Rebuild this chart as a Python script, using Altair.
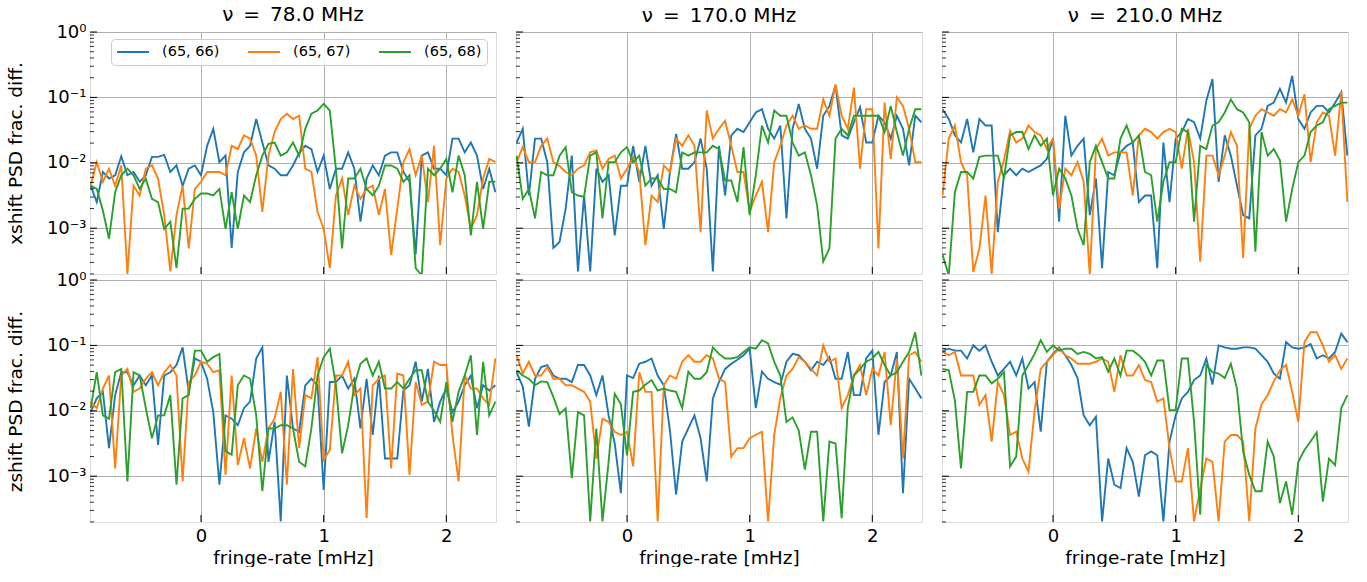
import altair as alt
import pandas as pd

FONT = "DejaVu Sans"

X = [-0.90, -0.85, -0.80, -0.75, -0.70, -0.65, -0.60, -0.55, -0.50, -0.45,
     -0.40, -0.35, -0.30, -0.25, -0.20, -0.15, -0.10, -0.05, 0.00, 0.05,
     0.10, 0.15, 0.20, 0.25, 0.30, 0.35, 0.40, 0.45, 0.50, 0.55,
     0.60, 0.65, 0.70, 0.75, 0.80, 0.85, 0.90, 0.95, 1.00, 1.05,
     1.10, 1.15, 1.20, 1.25, 1.30, 1.35, 1.40, 1.45, 1.50, 1.55,
     1.60, 1.65, 1.70, 1.75, 1.80, 1.85, 1.90, 1.95, 2.00, 2.05,
     2.10, 2.15, 2.20, 2.25, 2.30, 2.35, 2.40]

SERIES = ["(65, 66)", "(65, 67)", "(65, 68)"]
COLORS = ["#1f77b4", "#ff7f0e", "#2ca02c"]
FREQ_TITLES = ["ν\u2002=\u200278.0 MHz", "ν\u2002=\u2002170.0 MHz", "ν\u2002=\u2002210.0 MHz"]
ROW_TITLES = ["xshift PSD frac. diff.", "zshift PSD frac. diff."]
X_TICKS = [0, 1, 2]
Y_TICKS = [1, 0.1, 0.01, 0.001]

# values are log10 of the PSD fractional difference
X78_66 = [-2.35, -2.60, -2.14, -2.24, -2.19, -1.90, -2.19, -2.14, -2.29, -2.19,
          -1.91, -1.91, -1.88, -2.14, -2.04, -2.35, -2.09, -2.04, -2.19, -1.74,
          -1.48, -1.99, -1.89, -3.30, -2.14, -1.84, -1.74, -1.33, -1.69, -2.04,
          -2.09, -2.19, -2.19, -2.04, -1.85, -1.74, -1.79, -2.14, -1.89, -2.40,
          -2.09, -2.09, -1.84, -2.09, -2.90, -2.24, -2.04, -2.19, -1.89, -1.84,
          -1.84, -2.14, -2.29, -3.40, -1.89, -1.84, -2.09, -2.09, -2.19, -1.63,
          -1.63, -1.84, -1.69, -1.89, -2.40, -2.09, -2.45]
X78_67 = [-2.35, -1.99, -2.29, -2.09, -2.35, -2.04, -3.70, -2.35, -2.50, -2.09,
          -2.04, -2.24, -2.80, -3.66, -2.80, -2.35, -3.31, -2.40, -2.29, -2.14,
          -2.14, -2.14, -2.19, -1.74, -1.79, -1.58, -1.63, -1.89, -2.75, -1.89,
          -1.53, -1.33, -1.25, -1.33, -1.28, -2.09, -2.14, -2.75, -3.01, -3.61,
          -2.50, -2.24, -2.80, -2.35, -2.55, -2.40, -2.35, -2.80, -2.40, -3.41,
          -2.70, -1.99, -1.79, -2.19, -1.89, -2.60, -1.74, -3.26, -2.24, -2.09,
          -2.14, -2.50, -3.01, -2.80, -2.24, -1.94, -1.99]
X78_68 = [-2.35, -2.40, -2.73, -3.16, -2.45, -2.19, -2.09, -2.19, -2.40, -2.24,
          -2.55, -2.60, -3.01, -2.90, -3.61, -2.70, -2.70, -2.55, -2.47, -2.47,
          -2.50, -2.40, -3.01, -2.45, -3.01, -2.50, -2.60, -2.19, -1.89, -1.71,
          -1.69, -1.89, -1.84, -1.69, -1.89, -1.48, -1.25, -1.20, -1.10, -1.20,
          -2.10, -3.31, -2.24, -2.24, -2.09, -2.40, -2.50, -2.35, -2.04, -2.04,
          -2.09, -2.29, -2.19, -3.61, -3.72, -2.09, -2.19, -2.09, -1.94, -2.45,
          -1.89, -2.19, -3.11, -2.29, -3.01, -2.29, -2.29]

X170_66 = [-1.69, -1.48, -2.50, -1.63, -1.63, -1.99, -3.30, -3.21, -2.70, -1.89,
           -3.66, -2.50, -3.66, -2.09, -2.29, -2.19, -3.11, -2.35, -2.35, -1.74,
           -2.29, -1.74, -2.35, -2.19, -3.01, -2.14, -1.56, -2.09, -2.09, -1.99,
           -1.63, -2.09, -3.66, -1.74, -2.50, -1.58, -1.48, -1.53, -1.38, -1.23,
           -1.18, -1.48, -1.63, -1.43, -2.85, -1.48, -1.10, -1.48, -1.63, -2.09,
           -1.28, -1.13, -0.82, -1.58, -1.63, -1.38, -1.15, -1.69, -1.69, -1.28,
           -1.38, -1.63, -1.28, -1.48, -2.04, -1.28, -1.38]
X170_67 = [-1.99, -1.76, -1.99, -1.99, -1.74, -1.63, -1.99, -2.05, -2.14, -2.19,
           -2.09, -2.04, -1.84, -1.81, -2.09, -1.94, -1.89, -2.24, -2.09, -1.91,
           -2.14, -3.26, -2.50, -2.60, -2.04, -2.14, -1.63, -1.74, -1.58, -1.74,
           -3.06, -1.20, -1.63, -1.48, -1.36, -1.74, -2.14, -2.14, -2.75, -2.50,
           -2.29, -3.06, -1.99, -1.74, -1.43, -1.28, -1.48, -1.43, -1.48, -1.48,
           -1.03, -1.28, -0.80, -1.28, -1.48, -0.85, -2.09, -1.18, -1.18, -3.31,
           -1.08, -1.94, -1.00, -1.13, -1.48, -1.99, -1.99]
X170_68 = [-1.89, -2.55, -2.40, -2.85, -2.14, -2.19, -2.19, -1.89, -1.76, -2.45,
           -2.50, -2.52, -1.89, -1.84, -2.85, -1.99, -1.99, -1.84, -1.76, -1.99,
           -1.89, -2.35, -2.24, -2.24, -2.40, -2.40, -2.45, -1.84, -1.89, -1.84,
           -1.84, -1.84, -1.74, -1.79, -2.27, -2.27, -2.60, -1.76, -2.80, -2.19,
           -1.43, -1.69, -1.20, -1.28, -1.28, -1.69, -1.89, -1.84, -2.19, -2.65,
           -3.51, -3.31, -1.63, -1.48, -1.58, -1.28, -1.28, -1.28, -1.28, -1.28,
           -1.53, -1.13, -1.53, -1.89, -1.48, -1.18, -1.18]

X210_66 = [-1.18, -1.33, -1.58, -1.69, -1.33, -1.84, -1.33, -1.43, -1.43, -3.06,
           -2.19, -2.09, -2.19, -2.09, -2.14, -2.09, -2.04, -1.94, -1.63, -2.90,
           -1.28, -1.89, -1.74, -1.63, -2.80, -2.24, -3.61, -2.14, -2.19, -1.84,
           -1.74, -1.69, -2.60, -2.50, -2.50, -3.61, -1.69, -2.60, -1.63, -1.53,
           -1.33, -1.38, -1.63, -1.05, -0.72, -2.29, -1.58, -1.89, -2.35, -2.80,
           -2.85, -1.58, -1.48, -1.13, -1.08, -0.87, -1.08, -0.67, -1.33, -1.48,
           -1.23, -1.13, -1.13, -1.23, -1.08, -0.92, -1.89]
X210_67 = [-2.50, -1.63, -1.43, -1.99, -2.19, -3.67, -3.31, -2.50, -3.70, -2.29,
           -1.96, -1.51, -1.69, -1.63, -1.43, -1.53, -1.58, -1.79, -1.63, -2.70,
           -2.09, -2.19, -1.99, -2.29, -3.72, -1.79, -1.63, -1.89, -1.84, -1.84,
           -1.84, -2.50, -1.58, -1.48, -1.53, -1.63, -1.53, -1.48, -1.53, -2.09,
           -1.48, -1.99, -3.51, -1.89, -1.89, -2.19, -1.89, -1.53, -1.74, -3.46,
           -1.48, -1.28, -1.18, -1.23, -1.28, -1.18, -1.23, -1.03, -1.28, -0.95,
           -1.99, -1.38, -1.23, -1.28, -1.89, -0.92, -2.60]
X210_68 = [-3.41, -3.72, -2.45, -2.14, -2.14, -2.24, -1.91, -1.89, -1.89, -1.89,
           -2.24, -1.58, -1.53, -1.53, -1.79, -1.58, -1.74, -1.63, -2.50, -2.09,
           -2.24, -2.50, -3.01, -3.26, -1.99, -1.74, -1.99, -2.24, -2.24, -1.63,
           -1.43, -1.69, -1.58, -2.14, -2.19, -2.90, -2.29, -1.99, -1.99, -1.48,
           -1.53, -2.90, -1.74, -1.79, -1.43, -1.38, -1.23, -1.03, -1.18, -1.23,
           -1.38, -3.36, -1.53, -1.89, -1.79, -1.96, -2.90, -2.40, -1.99, -1.89,
           -1.53, -1.43, -1.38, -1.18, -1.13, -1.08, -1.08]

Z78_66 = [-2.02, -1.81, -1.71, -2.57, -1.76, -1.41, -1.41, -1.61, -1.46, -1.61,
          -1.46, -2.52, -1.46, -1.41, -1.30, -1.03, -1.71, -1.20, -1.25, -1.51,
          -2.02, -3.13, -2.07, -2.12, -2.22, -1.96, -1.86, -1.20, -1.03, -2.78,
          -2.17, -3.69, -1.46, -2.27, -2.32, -1.61, -1.51, -1.61, -3.21, -1.56,
          -1.56, -1.46, -1.66, -1.51, -2.27, -1.51, -2.37, -1.46, -2.73, -2.73,
          -2.73, -1.69, -1.61, -1.25, -1.86, -1.36, -2.17, -1.86, -1.66, -2.02,
          -1.86, -1.61, -1.46, -1.96, -1.61, -1.69, -1.61]
Z78_67 = [-1.86, -1.96, -1.66, -1.46, -2.88, -1.46, -1.36, -1.71, -1.66, -1.51,
          -1.41, -1.61, -1.41, -1.30, -1.46, -3.08, -1.56, -1.46, -1.25, -1.28,
          -1.41, -1.38, -2.98, -1.46, -2.83, -2.42, -2.88, -2.27, -2.78, -2.27,
          -2.12, -1.71, -3.13, -1.36, -2.57, -1.76, -1.81, -1.18, -2.75, -2.60,
          -1.46, -1.46, -1.25, -1.76, -1.66, -3.64, -1.61, -1.51, -1.46, -2.88,
          -1.43, -1.46, -2.98, -1.56, -1.91, -1.86, -1.25, -1.30, -1.30, -2.37,
          -3.08, -1.46, -1.66, -1.66, -1.81, -1.91, -1.20]
Z78_68 = [-1.96, -1.41, -2.07, -2.12, -1.41, -1.36, -3.08, -1.41, -1.46, -1.96,
          -2.42, -2.07, -2.07, -1.76, -3.13, -1.81, -1.76, -1.08, -1.08, -1.25,
          -1.18, -1.13, -2.62, -2.67, -1.61, -1.46, -1.51, -2.07, -3.23, -2.27,
          -2.27, -2.22, -2.22, -2.27, -2.78, -2.85, -2.27, -1.46, -1.18, -1.05,
          -1.61, -2.65, -2.22, -1.61, -1.28, -1.20, -1.46, -1.25, -1.66, -1.66,
          -1.56, -1.66, -1.51, -1.38, -1.38, -1.86, -2.00, -2.17, -1.56, -2.17,
          -1.71, -1.46, -1.15, -2.37, -1.25, -2.07, -1.86]

Z170_66 = [-1.41, -1.63, -2.24, -1.51, -1.33, -1.30, -1.46, -1.51, -1.51, -1.56,
           -1.30, -1.30, -1.46, -1.76, -1.46, -2.07, -2.50, -3.26, -1.46, -1.50,
           -1.28, -1.25, -1.20, -1.46, -1.61, -2.30, -3.28, -2.47, -2.27, -2.07,
           -2.42, -3.08, -1.81, -1.56, -1.36, -1.28, -1.22, -1.15, -1.05, -1.96,
           -1.40, -1.51, -1.56, -1.60, -1.25, -1.13, -1.15, -1.25, -1.38, -1.25,
           -1.30, -1.18, -1.51, -1.51, -1.10, -1.76, -1.76, -1.20, -1.08, -2.37,
           -1.56, -1.46, -1.10, -3.26, -1.51, -1.66, -1.81]
Z170_67 = [-1.15, -1.43, -1.25, -1.46, -1.46, -1.33, -1.51, -1.51, -1.61, -1.61,
           -1.66, -1.71, -1.86, -2.73, -2.12, -2.17, -2.32, -2.37, -2.32, -2.85,
           -1.41, -1.71, -1.71, -3.69, -1.61, -1.46, -1.51, -1.25, -1.15, -1.25,
           -1.25, -1.15, -1.20, -1.51, -1.56, -2.70, -2.57, -2.57, -2.42, -2.37,
           -2.32, -3.69, -2.37, -1.80, -1.46, -1.36, -1.18, -1.25, -1.36, -1.46,
           -1.00, -1.25, -1.20, -1.96, -1.76, -1.46, -1.30, -1.76, -1.36, -1.46,
           -1.10, -2.22, -1.20, -2.73, -1.15, -1.10, -1.25]
Z170_68 = [-1.38, -1.46, -1.51, -1.61, -1.55, -1.56, -1.79, -2.05, -1.96, -3.03,
           -2.02, -2.07, -3.69, -2.27, -3.69, -2.78, -1.74, -1.90, -2.68, -1.71,
           -1.69, -1.60, -1.53, -1.69, -1.66, -1.69, -1.71, -1.96, -1.40, -1.51,
           -1.51, -1.41, -1.03, -1.13, -1.20, -1.20, -1.18, -1.10, -1.03, -1.05,
           -0.92, -0.97, -1.25, -1.46, -2.17, -2.10, -2.30, -2.90, -2.32, -2.32,
           -3.69, -2.47, -2.50, -3.64, -1.95, -1.46, -1.36, -1.25, -1.20, -1.10,
           -1.30, -1.46, -1.41, -1.25, -1.10, -0.80, -1.46]

Z210_66 = [-1.08, -1.05, -1.08, -1.08, -1.20, -1.00, -1.08, -1.00, -1.25, -1.46,
           -1.36, -1.25, -1.46, -1.20, -1.66, -1.56, -2.32, -1.25, -1.13, -1.03,
           -1.15, -1.30, -1.50, -2.07, -2.22, -2.09, -3.69, -2.73, -3.13, -3.18,
           -2.57, -2.78, -3.31, -2.68, -2.62, -2.68, -3.69, -2.47, -2.07, -1.81,
           -1.71, -1.53, -1.46, -1.20, -1.60, -1.00, -1.03, -1.05, -1.05, -1.03,
           -1.03, -1.05, -1.15, -1.25, -1.43, -1.51, -0.95, -1.03, -1.05, -1.03,
           -0.98, -1.20, -1.15, -1.20, -1.10, -0.82, -0.95]
Z210_67 = [-1.10, -1.15, -1.10, -1.46, -1.46, -1.46, -1.91, -1.76, -2.47, -1.56,
           -1.76, -2.37, -2.32, -2.73, -2.93, -2.00, -1.36, -1.25, -1.15, -1.05,
           -1.15, -1.20, -1.28, -1.28, -1.28, -1.25, -1.20, -1.25, -1.71, -1.15,
           -1.46, -1.46, -1.30, -1.53, -1.56, -1.86, -1.81, -2.57, -3.08, -3.08,
           -2.57, -3.69, -3.20, -2.73, -2.78, -3.69, -2.47, -2.37, -2.37, -2.47,
           -3.69, -2.27, -1.90, -1.76, -1.55, -1.38, -1.30, -1.71, -2.17, -0.95,
           -0.80, -0.80, -1.00, -1.25, -1.15, -1.36, -1.20]
Z210_68 = [-1.36, -1.38, -1.84, -2.88, -1.71, -1.71, -1.46, -1.46, -1.58, -1.51,
           -1.41, -2.85, -2.70, -1.46, -1.30, -1.13, -0.92, -1.10, -1.00, -1.08,
           -1.05, -1.05, -1.13, -1.10, -1.13, -1.20, -1.18, -1.40, -1.20, -1.46,
           -1.08, -1.08, -1.15, -1.25, -1.46, -1.23, -1.23, -1.99, -1.99, -1.20,
           -1.20, -2.17, -3.59, -1.30, -1.41, -1.43, -1.50, -1.28, -1.66, -2.62,
           -2.98, -3.23, -3.23, -2.47, -2.70, -3.41, -3.08, -3.59, -2.78, -2.60,
           -2.47, -2.33, -3.39, -2.73, -2.83, -1.96, -1.76]

PANELS = [
    [(X78_66, X78_67, X78_68), (X170_66, X170_67, X170_68), (X210_66, X210_67, X210_68)],
    [(Z78_66, Z78_67, Z78_68), (Z170_66, Z170_67, Z170_68), (Z210_66, Z210_67, Z210_68)],
]

W, H = 406, 242
XDOM = [-0.905, 2.405]
YDOM = [10 ** -3.7, 1.0]
Y_MINOR = [k * 10.0 ** d for d in (-4, -3, -2, -1) for k in range(2, 10) if k * 10.0 ** d >= 1.9e-4]

LEGEND = alt.Legend(
    title=None, orient="none", legendX=21, legendY=7, direction="horizontal",
    columns=3, symbolType="stroke", symbolStrokeWidth=2, symbolSize=1024,
    labelFontSize=14.5, labelFont=FONT, labelColor="black", labelOffset=12,
    columnPadding=27, padding=5, clipHeight=16, fillColor="rgba(255,255,255,0.8)",
    strokeColor="#cccccc", cornerRadius=4,
)


def panel_df(series_lists):
    rows = []
    for name, vals in zip(SERIES, series_lists):
        for x, v in zip(X, vals):
            rows.append({"x": x, "y": 10 ** v, "series": name})
    return pd.DataFrame(rows)


def make_panel(r, c):
    xs = alt.Scale(domain=XDOM, nice=False, zero=False)
    ys = alt.Scale(type="log", domain=YDOM, nice=False)
    xa = dict(values=X_TICKS, grid=True, gridColor="#b0b0b0", gridWidth=1, ticks=False,
              tickSize=0, domain=False, labels=(r == 1), format="d", labelFontSize=18,
              labelFont=FONT, labelColor="black", labelPadding=5, title=None)
    if r == 1:
        xa.update(title="fringe-rate [mHz]", titleFontSize=18.5, titleFont=FONT,
                  titleFontWeight="normal", titleColor="black", titlePadding=3)
    ya = dict(values=Y_TICKS, grid=True, gridColor="#b0b0b0", gridWidth=1, ticks=False,
              tickSize=0, domain=False, labels=(c == 0), labelFontSize=18, labelFont=FONT,
              labelColor="black", labelPadding=4, title=None,
              labelExpr="datum.value >= 0.5 ? '10⁰' : datum.value >= 0.05 ? '10⁻¹' : datum.value >= 0.005 ? '10⁻²' : '10⁻³'")
    if c == 0:
        ya.update(title=ROW_TITLES[r], titleFontSize=18.5, titleFont=FONT,
                  titleFontWeight="normal", titleColor="black", titlePadding=21)
    X_ENC = lambda f: alt.X(f, scale=xs, axis=alt.Axis(**xa))
    Y_ENC = lambda f: alt.Y(f, scale=ys, axis=alt.Axis(**ya))

    lines = alt.Chart(panel_df(PANELS[r][c])).mark_line(strokeWidth=1.9, clip=True).encode(
        x=X_ENC("x:Q"), y=Y_ENC("y:Q"),
        color=alt.Color("series:N", scale=alt.Scale(domain=SERIES, range=COLORS), legend=LEGEND),
    )
    ymaj = alt.Chart(pd.DataFrame({"v": Y_TICKS})).mark_rule(color="black", strokeWidth=1).encode(
        x=alt.value(0), x2=alt.value(7), y=Y_ENC("v:Q"))
    ymin = alt.Chart(pd.DataFrame({"v": Y_MINOR})).mark_rule(color="black", strokeWidth=0.8).encode(
        x=alt.value(0), x2=alt.value(4), y=Y_ENC("v:Q"))
    xmaj = alt.Chart(pd.DataFrame({"v": X_TICKS})).mark_rule(color="black", strokeWidth=1).encode(
        x=X_ENC("v:Q"), y=alt.value(H), y2=alt.value(H - 7))

    props = dict(width=W, height=H)
    if r == 0:
        props["title"] = alt.TitleParams(text=FREQ_TITLES[c], fontSize=20, fontWeight="normal",
                                         font=FONT, color="black", offset=(-2 if c == 0 else 6),
                                         anchor="middle", frame="group")
    return alt.layer(lines, ymaj, ymin, xmaj).properties(**props)


panels = [make_panel(r, c) for r in range(2) for c in range(3)]
chart = (
    alt.concat(*panels, columns=3, spacing={"row": 6, "column": 20}, bounds="flush")
    .properties(padding={"left": 5, "top": 4, "right": 10, "bottom": 0})
    .configure_view(stroke="black", strokeWidth=1)
    .configure(font=FONT)
)

chart.save("out.html", embed_options={"renderer": "svg", "actions": False})
